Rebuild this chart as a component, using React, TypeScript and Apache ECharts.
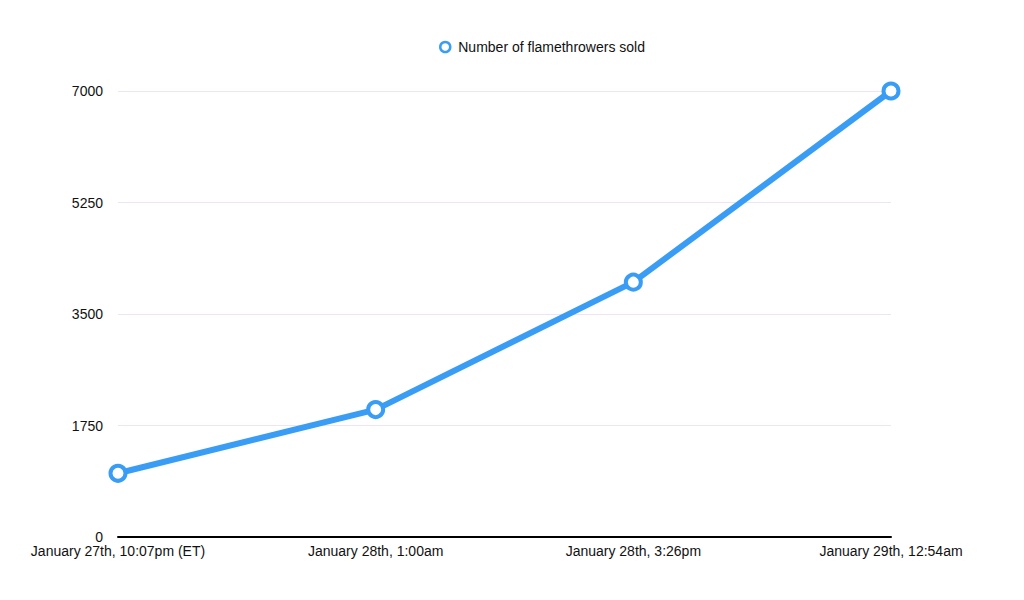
import React, { useEffect, useRef } from "react";
import * as echarts from "echarts";

const categories = [
  "January 27th, 10:07pm (ET)",
  "January 28th, 1:00am",
  "January 28th, 3:26pm",
  "January 29th, 12:54am",
];
const seriesName = "Number of flamethrowers sold";
const sold = [1000, 2000, 4000, 7000];
const yTicks = [0, 1750, 3500, 5250, 7000];

export default function App() {
  const ref = useRef<HTMLDivElement>(null);
  useEffect(() => {
    if (!ref.current) return;
    const chart = echarts.init(ref.current, undefined, { renderer: "svg" });
    const font = "Liberation Sans, Arial, Helvetica, sans-serif";
    const blue = "#3a9df5";
    chart.setOption({
      animation: false,
      backgroundColor: "#ffffff",
      textStyle: { fontFamily: font },
      legend: {
        top: 35,
        left: 434,
        itemWidth: 10,
        itemHeight: 10,
        itemGap: 10,
        icon: "circle",
        itemStyle: { color: "#ffffff", borderColor: blue, borderWidth: 2.5 },
        textStyle: { fontSize: 14, color: "#111", fontFamily: font, padding: [0, 0, 0, 3] },
        data: [seriesName],
      },
      grid: { left: 118, right: 133, top: 91, bottom: 63, containLabel: false },
      xAxis: {
        type: "category",
        data: categories,
        boundaryGap: false,
        axisLine: { lineStyle: { color: "#000", width: 2 } },
        axisTick: { show: false },
        axisLabel: { color: "#111", fontSize: 14, margin: 7, fontFamily: font },
        splitLine: { show: false },
      },
      yAxis: {
        type: "value",
        min: yTicks[0],
        max: yTicks[yTicks.length - 1],
        interval: 1750,
        axisLine: { show: false },
        axisTick: { show: false },
        axisLabel: {
          color: "#111",
          fontSize: 14,
          margin: 15,
          fontFamily: font,
          formatter: (v: number) => String(v),
        },
        splitLine: { lineStyle: { color: "#eee4f4", width: 1 } },
      },
      series: [
        {
          name: seriesName,
          type: "line",
          data: sold,
          symbol: "circle",
          symbolSize: 15,
          lineStyle: { color: blue, width: 6 },
          itemStyle: { color: "#ffffff", borderColor: blue, borderWidth: 4 },
          color: blue,
        },
      ],
    });
    return () => chart.dispose();
  }, []);
  return <div ref={ref} style={{ width: 1024, height: 600, position: "absolute", left: 0, top: 0 }} />;
}
